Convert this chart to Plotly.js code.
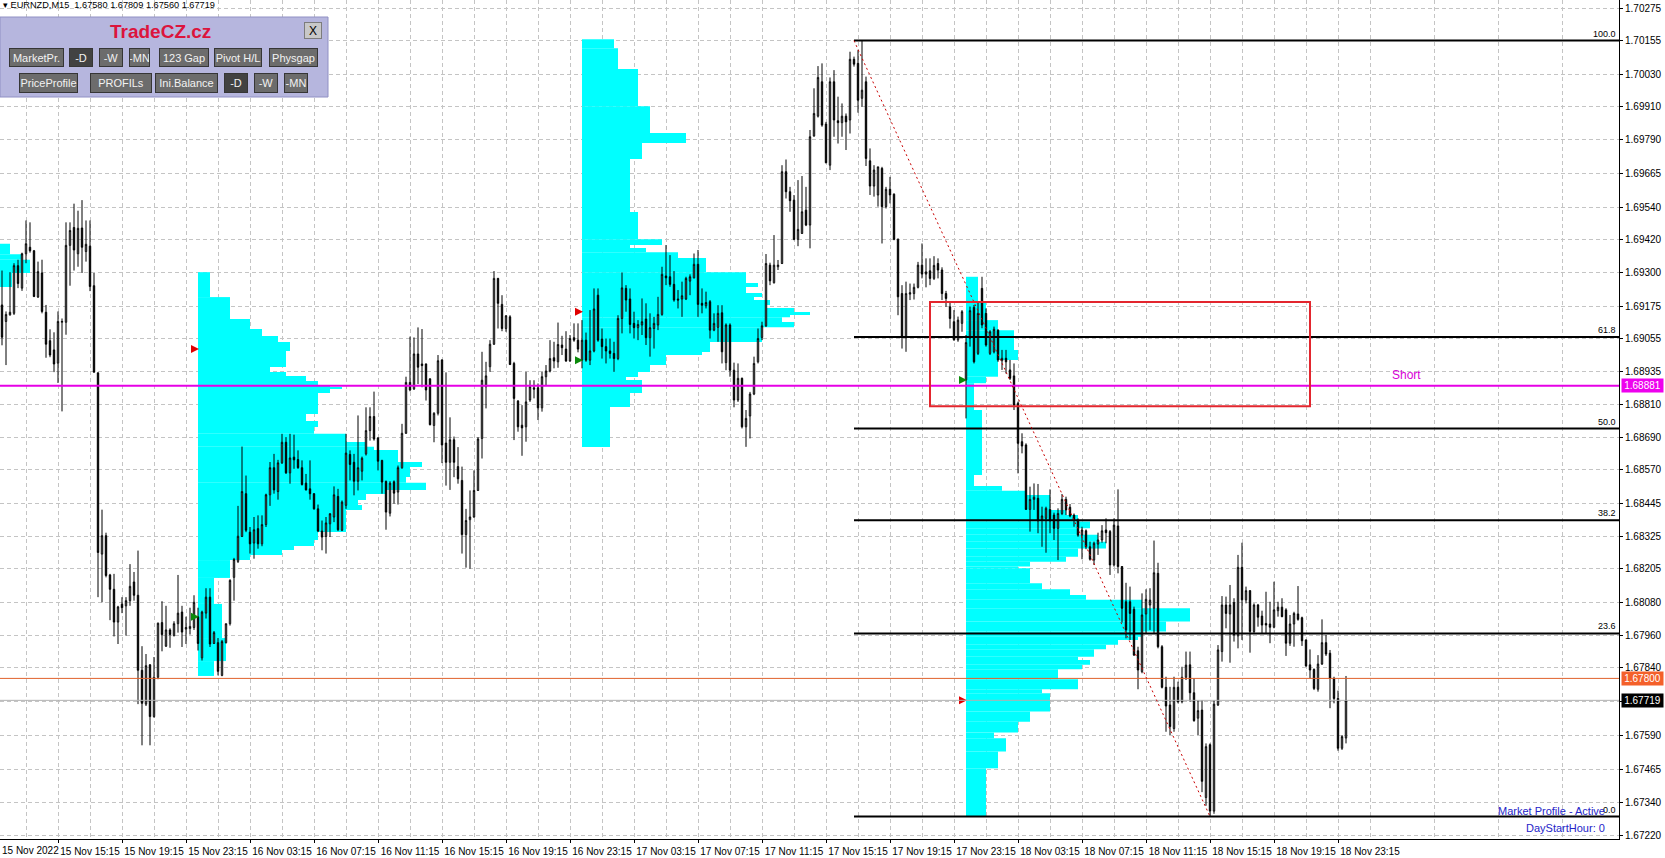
<!DOCTYPE html>
<html>
<head>
<meta charset="utf-8">
<script src="https://cdn.plot.ly/plotly-3.0.1.min.js"></script>
<style>
html,body{margin:0;padding:0;background:#fff;overflow:hidden}
#chart{width:1665px;height:858px}
</style>
</head>
<body>
<div id="chart"></div>
<script>
// ---------------- DATA ----------------
const symbol = 'EURNZD';
const timeframe = 'M15';
// bar index 0 = 15 Nov 2022 11:15, one bar per 15 minutes
const firstIdx = 2;

const opens = [
1.69179,1.69118,1.69142,1.69148,1.69324,1.69241,1.69368,1.69392,1.69379,1.69208,
1.69297,1.69152,1.69047,1.69013,1.68964,1.69115,1.69115,1.69399,1.69465,1.69368,
1.69463,1.69376,1.69396,1.69250,1.68928,1.68259,1.68327,1.68182,1.68129,1.68008,
1.68074,1.68068,1.68087,1.68156,1.68107,1.67830,1.67705,1.67850,1.67659,1.67804,
1.68006,1.67919,1.67979,1.67958,1.68002,1.68045,1.67982,1.67984,1.67988,1.68028,
1.67876,1.68041,1.68100,1.67929,1.67932,1.67811,1.67932,1.68002,1.68173,1.68232,
1.68324,1.68482,1.68340,1.68300,1.68353,1.68297,1.68368,1.68478,1.68578,1.68490,
1.68596,1.68672,1.68559,1.68617,1.68608,1.68578,1.68521,1.68500,1.68482,1.68426,
1.68344,1.68324,1.68371,1.68396,1.68472,1.68347,1.68439,1.68627,1.68598,1.68528,
1.68565,1.68629,1.68715,1.68767,1.68688,1.68605,1.68527,1.68410,1.68526,1.68488,
1.68578,1.68705,1.68893,1.68869,1.68998,1.68961,1.68961,1.68906,1.68734,1.68779,
1.68976,1.68669,1.68598,1.68681,1.68582,1.68531,1.68331,1.68386,1.68396,1.68494,
1.68686,1.68877,1.68951,1.69034,1.69277,1.69181,1.69092,1.69135,1.68963,1.68824,
1.68735,1.68729,1.68828,1.68873,1.68873,1.68799,1.68914,1.68935,1.68984,1.68969,
1.69031,1.69016,1.68972,1.69058,1.69049,1.68975,1.69049,1.68975,1.69009,1.69215,
1.69053,1.69025,1.69009,1.69000,1.68981,1.69129,1.69240,1.69201,1.69111,1.69095,
1.69105,1.69127,1.69058,1.69092,1.69105,1.69144,1.69286,1.69283,1.69255,1.69201,
1.69201,1.69201,1.69267,1.69279,1.69329,1.69185,1.69176,1.69191,1.69086,1.69096,
1.69150,1.68966,1.69105,1.68938,1.68828,1.68908,1.68729,1.68769,1.68850,1.68969,
1.69059,1.69102,1.69326,1.69261,1.69320,1.69332,1.69671,1.69597,1.69566,1.69421,
1.69443,1.69529,1.69474,1.69803,1.69876,1.70003,1.69847,1.69695,1.70003,1.69859,
1.69852,1.69876,1.69862,1.70086,1.70071,1.69942,1.70003,1.69711,1.69618,1.69585,
1.69683,1.69542,1.69606,1.69588,1.69421,1.69221,1.69061,1.69219,1.69221,1.69244,
1.69326,1.69293,1.69305,1.69277,1.69332,1.69308,1.69221,1.69172,1.69117,1.69050,
1.69111,1.68902,1.69056,1.69170,1.69000,1.69240,1.69148,1.69000,1.69006,1.69086,
1.68973,1.68982,1.68939,1.68917,1.68816,1.68674,1.68662,1.68424,1.68461,1.68465,
1.68387,1.68391,1.68424,1.68403,1.68354,1.68409,1.68461,1.68432,1.68403,1.68385,
1.68329,1.68345,1.68286,1.68237,1.68296,1.68311,1.68348,1.68342,1.68219,1.68363,
1.68213,1.68083,1.68083,1.68055,1.67902,1.67825,1.68038,1.68071,1.68059,1.68188,
1.67917,1.67767,1.67702,1.67615,1.67767,1.67714,1.67804,1.67850,1.67747,1.67653,
1.67683,1.67360,1.67555,1.67310,1.67702,1.67899,1.68071,1.68038,1.68080,1.67957,
1.68210,1.68090,1.68124,1.67973,1.68071,1.68030,1.68003,1.68001,1.67989,1.68050,
1.68063,1.68053,1.67930,1.68001,1.68038,1.68024,1.67942,1.67850,1.67833,1.67760,
1.67853,1.67932,1.67893,1.67800,1.67726,1.67542,1.67580];

const highs = [
1.69306,1.69155,1.69300,1.69333,1.69346,1.69372,1.69491,1.69484,1.69382,1.69339,
1.69346,1.69179,1.69089,1.69078,1.69155,1.69129,1.69484,1.69484,1.69553,1.69527,
1.69566,1.69491,1.69491,1.69297,1.68931,1.68423,1.68338,1.68186,1.68186,1.68068,
1.68100,1.68100,1.68222,1.68193,1.68272,1.67919,1.67890,1.67853,1.67879,1.68006,
1.68085,1.68068,1.67985,1.68011,1.68182,1.68068,1.68028,1.68061,1.68107,1.68061,
1.68050,1.68133,1.68133,1.67975,1.67949,1.67942,1.68002,1.68166,1.68245,1.68437,
1.68656,1.68549,1.68359,1.68396,1.68402,1.68402,1.68482,1.68599,1.68629,1.68607,
1.68703,1.68691,1.68703,1.68700,1.68642,1.68605,1.68555,1.68605,1.68484,1.68442,
1.68383,1.68396,1.68410,1.68509,1.68500,1.68457,1.68703,1.68642,1.68629,1.68771,
1.68619,1.68801,1.68801,1.68859,1.68691,1.68607,1.68531,1.68528,1.68531,1.68586,
1.68740,1.68914,1.69062,1.69059,1.69096,1.69090,1.68963,1.68909,1.68783,1.68994,
1.68978,1.68930,1.68764,1.68693,1.68654,1.68582,1.68426,1.68494,1.68568,1.68691,
1.69006,1.68969,1.69049,1.69304,1.69279,1.69215,1.69141,1.69141,1.68969,1.68828,
1.68809,1.68932,1.68901,1.68901,1.68889,1.68932,1.68957,1.69049,1.69043,1.69114,
1.69065,1.69082,1.69068,1.69111,1.69111,1.69123,1.69077,1.69160,1.69240,1.69240,
1.69092,1.69055,1.69055,1.69043,1.69141,1.69299,1.69252,1.69240,1.69154,1.69123,
1.69203,1.69185,1.69148,1.69135,1.69209,1.69320,1.69400,1.69363,1.69304,1.69234,
1.69265,1.69283,1.69292,1.69369,1.69382,1.69240,1.69228,1.69197,1.69148,1.69178,
1.69178,1.69111,1.69111,1.68966,1.68963,1.68911,1.68791,1.68858,1.68988,1.69092,
1.69117,1.69367,1.69335,1.69437,1.69345,1.69695,1.69716,1.69615,1.69585,1.69640,
1.69655,1.69615,1.69825,1.69979,1.70061,1.70071,1.69855,1.70019,1.70046,1.69948,
1.69923,1.69886,1.70114,1.70096,1.70120,1.70155,1.70022,1.69757,1.69695,1.69689,
1.69689,1.69615,1.69652,1.69591,1.69425,1.69252,1.69265,1.69258,1.69258,1.69338,
1.69406,1.69351,1.69351,1.69359,1.69351,1.69318,1.69231,1.69191,1.69160,1.69136,
1.69160,1.69068,1.69173,1.69179,1.69191,1.69283,1.69166,1.69086,1.69099,1.69089,
1.69013,1.69013,1.68976,1.68963,1.68822,1.68705,1.68668,1.68508,1.68520,1.68518,
1.68434,1.68434,1.68498,1.68412,1.68428,1.68481,1.68471,1.68444,1.68409,1.68391,
1.68360,1.68350,1.68305,1.68305,1.68338,1.68366,1.68391,1.68348,1.68391,1.68498,
1.68215,1.68153,1.68139,1.68065,1.67917,1.68114,1.68129,1.68133,1.68309,1.68227,
1.67923,1.67806,1.67769,1.67806,1.67788,1.67843,1.67899,1.67899,1.67800,1.67720,
1.67720,1.67560,1.67560,1.67720,1.67923,1.68104,1.68102,1.68145,1.68096,1.68256,
1.68301,1.68139,1.68126,1.68077,1.68075,1.68050,1.68120,1.68083,1.68157,1.68083,
1.68096,1.68059,1.68034,1.68046,1.68141,1.68028,1.67944,1.67907,1.67837,1.67886,
1.68018,1.67960,1.67905,1.67806,1.67755,1.67591,1.67809];

const lows = [
1.69030,1.68957,1.69140,1.69142,1.69241,1.69231,1.69333,1.69372,1.69208,1.69205,
1.69148,1.68984,1.68986,1.68931,1.68891,1.68786,1.69069,1.69250,1.69306,1.69320,
1.69297,1.69339,1.69230,1.68928,1.68100,1.68081,1.68173,1.68015,1.67955,1.67927,
1.68041,1.67958,1.68068,1.68087,1.67705,1.67553,1.67698,1.67553,1.67655,1.67797,
1.67900,1.67916,1.67913,1.67955,1.67969,1.67916,1.67927,1.67962,1.67979,1.67903,
1.67866,1.68021,1.67916,1.67927,1.67811,1.67808,1.67929,1.67995,1.68087,1.68226,
1.68322,1.68340,1.68261,1.68242,1.68279,1.68288,1.68359,1.68437,1.68482,1.68460,
1.68592,1.68555,1.68519,1.68574,1.68574,1.68512,1.68494,1.68460,1.68423,1.68340,
1.68273,1.68261,1.68322,1.68377,1.68344,1.68344,1.68426,1.68531,1.68476,1.68494,
1.68531,1.68623,1.68678,1.68678,1.68568,1.68482,1.68349,1.68398,1.68445,1.68442,
1.68574,1.68703,1.68860,1.68865,1.68887,1.68875,1.68826,1.68734,1.68672,1.68771,
1.68595,1.68512,1.68496,1.68543,1.68519,1.68261,1.68209,1.68205,1.68393,1.68492,
1.68612,1.68797,1.68932,1.69031,1.69092,1.69082,1.69080,1.68957,1.68680,1.68711,
1.68622,1.68674,1.68821,1.68834,1.68754,1.68785,1.68883,1.68930,1.68945,1.68947,
1.68994,1.68969,1.68969,1.69043,1.69004,1.68945,1.68969,1.68957,1.69004,1.69043,
1.68981,1.68963,1.68981,1.68932,1.68975,1.69074,1.69154,1.69074,1.69055,1.69049,
1.69068,1.69031,1.68988,1.69018,1.69086,1.69139,1.69252,1.69246,1.69191,1.69166,
1.69135,1.69197,1.69215,1.69277,1.69135,1.69148,1.69166,1.69055,1.69082,1.69043,
1.68963,1.68938,1.68914,1.68801,1.68821,1.68723,1.68655,1.68686,1.68846,1.68963,
1.69049,1.69098,1.69252,1.69258,1.69308,1.69330,1.69572,1.69523,1.69418,1.69396,
1.69441,1.69470,1.69388,1.69800,1.69871,1.69837,1.69702,1.69677,1.69800,1.69775,
1.69800,1.69751,1.69812,1.70059,1.69889,1.69911,1.69692,1.69585,1.69579,1.69542,
1.69406,1.69535,1.69554,1.69418,1.69141,1.69018,1.69006,1.69197,1.69199,1.69240,
1.69277,1.69244,1.69252,1.69271,1.69277,1.69197,1.69172,1.69092,1.69047,1.69043,
1.69080,1.68760,1.69025,1.68963,1.68994,1.69093,1.69025,1.68994,1.69000,1.68969,
1.68939,1.68926,1.68902,1.68791,1.68557,1.68631,1.68422,1.68342,1.68422,1.68336,
1.68286,1.68264,1.68336,1.68311,1.68237,1.68403,1.68403,1.68395,1.68360,1.68323,
1.68240,1.68277,1.68235,1.68219,1.68256,1.68301,1.68299,1.68182,1.68213,1.68188,
1.68006,1.67948,1.67942,1.67883,1.67760,1.67819,1.67966,1.67979,1.67966,1.67911,
1.67763,1.67603,1.67591,1.67603,1.67708,1.67708,1.67794,1.67714,1.67640,1.67591,
1.67380,1.67330,1.67290,1.67300,1.67698,1.67862,1.67985,1.67858,1.67936,1.67911,
1.67942,1.68077,1.67895,1.67966,1.67991,1.67966,1.67966,1.67930,1.67985,1.68028,
1.68026,1.67883,1.67920,1.67917,1.68013,1.67920,1.67843,1.67800,1.67757,1.67751,
1.67850,1.67883,1.67690,1.67708,1.67533,1.67536,1.67560];

const closes = [
1.69060,1.69144,1.69152,1.69324,1.69258,1.69368,1.69405,1.69379,1.69210,1.69302,
1.69155,1.69034,1.68994,1.68961,1.69118,1.69118,1.69399,1.69454,1.69382,1.69462,
1.69392,1.69403,1.69247,1.68931,1.68265,1.68327,1.68180,1.68129,1.68008,1.68064,
1.68061,1.68087,1.68140,1.68107,1.67830,1.67708,1.67847,1.67659,1.67804,1.68004,
1.67962,1.67979,1.67962,1.68002,1.68041,1.67971,1.67988,1.67992,1.68081,1.67929,
1.68045,1.68100,1.67927,1.67969,1.67826,1.67936,1.68002,1.68162,1.68239,1.68325,
1.68490,1.68347,1.68297,1.68349,1.68297,1.68368,1.68478,1.68578,1.68496,1.68596,
1.68672,1.68559,1.68614,1.68607,1.68578,1.68516,1.68496,1.68482,1.68426,1.68344,
1.68322,1.68374,1.68408,1.68478,1.68349,1.68451,1.68632,1.68590,1.68528,1.68578,
1.68613,1.68715,1.68767,1.68684,1.68602,1.68525,1.68414,1.68521,1.68484,1.68578,
1.68705,1.68893,1.68865,1.68998,1.68949,1.68955,1.68865,1.68737,1.68779,1.68973,
1.68662,1.68598,1.68681,1.68598,1.68537,1.68331,1.68383,1.68396,1.68494,1.68684,
1.68901,1.68917,1.69034,1.69277,1.69185,1.69092,1.69139,1.68959,1.68834,1.68729,
1.68725,1.68821,1.68877,1.68868,1.68799,1.68914,1.68935,1.68981,1.68972,1.69033,
1.69021,1.68972,1.69055,1.69049,1.69016,1.69049,1.68975,1.69009,1.69164,1.69049,
1.69025,1.69009,1.69000,1.68981,1.69129,1.69242,1.69197,1.69107,1.69095,1.69107,
1.69117,1.69058,1.69095,1.69111,1.69144,1.69292,1.69279,1.69255,1.69197,1.69197,
1.69213,1.69277,1.69283,1.69329,1.69181,1.69178,1.69188,1.69086,1.69111,1.69148,
1.69006,1.69105,1.68938,1.68828,1.68908,1.68729,1.68760,1.68850,1.68963,1.69055,
1.69102,1.69332,1.69268,1.69326,1.69326,1.69671,1.69597,1.69564,1.69421,1.69458,
1.69523,1.69474,1.69800,1.69886,1.70019,1.69843,1.69704,1.70003,1.69862,1.69852,
1.69876,1.69855,1.70086,1.70068,1.69935,1.69972,1.69720,1.69618,1.69677,1.69689,
1.69542,1.69606,1.69585,1.69421,1.69209,1.69061,1.69221,1.69224,1.69244,1.69326,
1.69293,1.69301,1.69277,1.69325,1.69308,1.69221,1.69203,1.69129,1.69050,1.69123,
1.69154,1.69040,1.69158,1.68969,1.69148,1.69105,1.69031,1.69080,1.69089,1.68976,
1.68982,1.68969,1.68908,1.68809,1.68668,1.68658,1.68424,1.68461,1.68469,1.68382,
1.68400,1.68428,1.68382,1.68354,1.68409,1.68461,1.68422,1.68400,1.68387,1.68329,
1.68348,1.68286,1.68240,1.68299,1.68311,1.68345,1.68338,1.68219,1.68366,1.68213,
1.68059,1.67979,1.68040,1.67886,1.67831,1.68034,1.68092,1.68089,1.68190,1.67917,
1.67767,1.67698,1.67622,1.67767,1.67714,1.67804,1.67849,1.67747,1.67644,1.67681,
1.67420,1.67548,1.67310,1.67705,1.67905,1.68071,1.68040,1.68071,1.67960,1.68210,
1.68090,1.68124,1.67973,1.68071,1.68026,1.67997,1.67997,1.67989,1.68053,1.68063,
1.68028,1.67930,1.68001,1.68040,1.68018,1.67939,1.67846,1.67831,1.67763,1.67853,
1.67932,1.67890,1.67800,1.67726,1.67542,1.67585,1.67719];

// time axis labels (every 16 bars, starting at bar 16)
const firstTimeLabel = '15 Nov 2022';
const timeLabels = ['15 Nov 15:15','15 Nov 19:15','15 Nov 23:15','16 Nov 03:15','16 Nov 07:15',
  '16 Nov 11:15','16 Nov 15:15','16 Nov 19:15','16 Nov 23:15','17 Nov 03:15','17 Nov 07:15',
  '17 Nov 11:15','17 Nov 15:15','17 Nov 19:15','17 Nov 23:15','18 Nov 03:15','18 Nov 07:15',
  '18 Nov 11:15','18 Nov 15:15','18 Nov 19:15','18 Nov 23:15'];
const barsPerLabel = 16;

// price scale labels
const priceTicks = [1.70275,1.70155,1.70030,1.69910,1.69790,1.69665,1.69540,1.69420,1.69300,
  1.69175,1.69055,1.68935,1.68810,1.68690,1.68570,1.68445,1.68325,1.68205,1.68080,1.67960,
  1.67840,1.67715,1.67590,1.67465,1.67340,1.67220];

// day starts (00:00) and market profiles (price boundaries, TPO length in bars)
const dayStartIdx = [51, 147, 243];
const dayEndIdx = [146, 242, 338];

const prof15Start = -45;
const prof15Levels = [1.69405,1.69366,1.69346,1.69297,1.69245];
const prof15Len = [49,52,54,49.5];

const prof16Start = 51;
const prof16Levels = [1.69300,1.69208,1.69127,1.69090,1.69064,1.69042,1.69009,1.68950,1.68931,1.68917,
  1.68898,1.68883,1.68876,1.68869,1.68854,1.68776,1.68750,1.68728,1.68703,1.68673,1.68655,1.68643,
  1.68599,1.68581,1.68544,1.68522,1.68496,1.68481,1.68459,1.68440,1.68422,1.68341,1.68311,1.68289,
  1.68274,1.68256,1.68237,1.68171,1.68075,1.67949,1.67864,1.67809];
const prof16Len = [3,8,13,16,20,23,22,18,22,27,30,33,36,33,30,27,30,29,37,42,44,50,56,53,52,57,47,42,
  40,41,37,30,29,24,21,13,8,4,6,7,4];

const prof17Start = 147;
const prof17Levels = [1.70160,1.70127,1.70050,1.69913,1.69814,1.69777,1.69718,1.69522,1.69422,1.69400,
  1.69389,1.69374,1.69352,1.69300,1.69260,1.69245,1.69223,1.69208,1.69197,1.69179,1.69168,1.69153,
  1.69142,1.69134,1.69116,1.69097,1.69042,1.69005,1.68994,1.68957,1.68931,1.68913,1.68902,1.68854,
  1.68802,1.68654];
const prof17Len = [8,9,14,17,26,15,12,14,20,12,16,24,31,41,44,41,45,43,47,46,53,57,52,50,53,45,32,30,
  21,17,14,11,15,12,7];

const prof18Start = 243;
const prof18Levels = [1.69283,1.69191,1.69123,1.69086,1.69013,1.68976,1.68914,1.68890,1.68791,1.68551,
  1.68510,1.68493,1.68477,1.68422,1.68403,1.68379,1.68354,1.68330,1.68305,1.68280,
  1.68249,1.68231,1.68213,1.68207,1.68151,1.68129,1.68108,1.68090,1.68059,1.68010,
  1.67973,1.67954,1.67942,1.67924,1.67908,1.67880,1.67868,1.67850,1.67834,1.67797,
  1.67760,1.67745,1.67678,1.67640,1.67600,1.67579,1.67558,1.67530,1.67468,1.67292];
const prof18Len = [3,5,8,12,13,8,5,2,4,2,9,15,21,25,28,31,28,33,35,28,25,16,13,16,19,26,30,44,56,50,
  44,43,38,35,32,28,31,29,23,28,19,21,16,13,7,10,10,8,5];

// Fibonacci retracement
const fibHigh = 1.70155, fibLow = 1.67290;
const fibStartIdx = 215, fibEndIdx = 304;
const fibLevels = [100, 61.8, 50, 38.2, 23.6, 0];

// other objects
const shortLevel = 1.68881;
const alertLevel = 1.67800;
const shortLabel = 'Short';
const shortLabelIdx = 353;
const zoneIdx = [234, 329];
const zonePrice = [1.68805, 1.69190];
const panelTitle = 'TradeCZ.cz';
const panelRow1 = ['MarketPr.','-D','-W','-MN','123 Gap','Pivot H/L','Physgap'];
const panelRow2 = ['PriceProfile','PROFILs','Ini.Balance','-D','-W','-MN'];
const statusLines = ['Market Profile - Active', 'DayStartHour: 0'];

// ---------------- DRAWING ----------------
const FONT = 'Liberation Sans, Arial, sans-serif';
const PW = 1619, PH = 839;                 // plot area size in px
const px = v => v / PW, py = v => 1 - v / PH;
const XR = [1.5, 406.25];
const YR = [1.67207, 1.70305];
const GRID = '#c4c4c4';

const idx = opens.map((_, k) => firstIdx + k);
const lastK = opens.length - 1;

function profileTrace(start, levels, lens) {
  const y = [], w = [];
  for (let k = 0; k < lens.length; k++) {
    y.push((levels[k] + levels[k + 1]) / 2);
    w.push(levels[k] - levels[k + 1]);
  }
  return {type: 'bar', orientation: 'h', x: lens, y: y, width: w, base: start,
    marker: {color: '#00ffff', line: {width: 0}}, hoverinfo: 'skip'};
}

const traces = [
  profileTrace(prof15Start, prof15Levels, prof15Len),
  profileTrace(prof16Start, prof16Levels, prof16Len),
  profileTrace(prof17Start, prof17Levels, prof17Len),
  profileTrace(prof18Start, prof18Levels, prof18Len),
  {type: 'candlestick', x: idx, open: opens, high: highs, low: lows, close: closes,
    increasing: {line: {color: '#000', width: 1}, fillcolor: '#ffffff'},
    decreasing: {line: {color: '#000', width: 1}, fillcolor: '#000000'},
    whiskerwidth: 0, hoverinfo: 'skip'},
  {type: 'scatter', mode: 'markers',
    x: dayStartIdx.map(d => d + 0.25),
    y: dayStartIdx.map(d => opens[d - firstIdx]),
    marker: {symbol: 'arrow-right', size: 8, color: '#0a8a0a'}, hoverinfo: 'skip'},
  {type: 'scatter', mode: 'markers',
    x: dayStartIdx.map(d => d + 0.25),
    y: dayEndIdx.map(d => closes[d - firstIdx]),
    marker: {symbol: 'arrow-right', size: 8, color: '#e00000'}, hoverinfo: 'skip'}
];

const fibPrice = l => fibLow + (fibHigh - fibLow) * l / 100;
const lastClose = closes[lastK];

const shapes = [];
// horizontal price lines
shapes.push({type: 'line', xref: 'paper', yref: 'y', x0: 0, x1: 1, y0: lastClose, y1: lastClose,
  line: {color: '#b0b0b0', width: 1}, layer: 'above'});
shapes.push({type: 'line', xref: 'paper', yref: 'y', x0: 0, x1: 1, y0: alertLevel, y1: alertLevel,
  line: {color: '#e0622c', width: 1}, layer: 'above'});
shapes.push({type: 'line', xref: 'paper', yref: 'y', x0: 0, x1: 1, y0: shortLevel, y1: shortLevel,
  line: {color: '#e600e6', width: 2}, layer: 'above'});
// fibo levels
fibLevels.forEach(l => shapes.push({type: 'line', xref: 'x', yref: 'y', x0: fibStartIdx, x1: XR[1],
  y0: fibPrice(l), y1: fibPrice(l), line: {color: '#000', width: 2}, layer: 'above'}));
// fibo trend line
shapes.push({type: 'line', xref: 'x', yref: 'y', x0: fibStartIdx, y0: fibHigh, x1: fibEndIdx, y1: fibLow,
  line: {color: '#c80000', width: 1, dash: '2px,3px'}, layer: 'above'});
// zone rectangle
shapes.push({type: 'rect', xref: 'x', yref: 'y', x0: zoneIdx[0], x1: zoneIdx[1], y0: zonePrice[0], y1: zonePrice[1],
  line: {color: '#e3262e', width: 2}, fillcolor: 'rgba(0,0,0,0)', layer: 'above'});
// panel
shapes.push({type: 'rect', xref: 'paper', yref: 'paper', x0: px(0), x1: px(328), y0: py(97), y1: py(17),
  fillcolor: '#b6b6de', line: {color: '#9090c4', width: 1}, layer: 'above'});

const annotations = [];
// first time label
annotations.push({xref: 'paper', yref: 'paper', x: 0, xshift: 0, y: py(850), xanchor: 'left', yanchor: 'middle',
  text: firstTimeLabel, showarrow: false, font: {family: FONT, size: 10, color: '#000'}});
// fibo labels
fibLevels.forEach(l => annotations.push({xref: 'paper', yref: 'y', x: 1, xshift: -1, y: fibPrice(l),
  xanchor: 'right', yanchor: 'bottom', text: l.toFixed(1), showarrow: false,
  font: {family: FONT, size: 9, color: '#000'}}));
// price boxes on the scale
function priceBox(price, bg) {
  return {xref: 'paper', yref: 'y', x: px(1621), y: price, xanchor: 'left', yanchor: 'middle',
    text: price.toFixed(5), showarrow: false, bgcolor: bg, borderpad: 1, width: 39, height: 11,
    font: {family: FONT, size: 10, color: '#ffffff'}};
}
annotations.push(priceBox(shortLevel, '#ee00ee'));
annotations.push(priceBox(alertLevel, '#f4602a'));
annotations.push(priceBox(lastClose, '#000000'));
// Short label
annotations.push({xref: 'x', yref: 'y', x: shortLabelIdx, y: shortLevel, yshift: 2, xanchor: 'center',
  yanchor: 'bottom', text: shortLabel, showarrow: false, font: {family: FONT, size: 12, color: '#d800d8'}});
// status text bottom right
annotations.push({xref: 'paper', yref: 'paper', x: px(1607), y: py(811), xanchor: 'right', yanchor: 'middle',
  text: statusLines[0], showarrow: false, font: {family: FONT, size: 11, color: '#2424c8'}});
annotations.push({xref: 'paper', yref: 'paper', x: px(1607), y: py(828), xanchor: 'right', yanchor: 'middle',
  text: statusLines[1], showarrow: false, font: {family: FONT, size: 11, color: '#2424c8'}});
// top-left symbol info
annotations.push({xref: 'paper', yref: 'paper', x: px(1), y: py(5), xanchor: 'left', yanchor: 'middle',
  text: '\u25BE ' + symbol + ',' + timeframe + '\u00a0\u00a0' + [opens[lastK], highs[lastK], lows[lastK], closes[lastK]].map(v => v.toFixed(5)).join(' '),
  showarrow: false, font: {family: FONT, size: 9.2, color: '#000'}});
// panel title & close
annotations.push({xref: 'paper', yref: 'paper', x: px(160), y: py(32), xanchor: 'center', yanchor: 'middle',
  text: '<b>' + panelTitle + '</b>', showarrow: false, font: {family: FONT, size: 19, color: '#dc143c'}});
annotations.push({xref: 'paper', yref: 'paper', x: px(304), y: py(22), xanchor: 'left', yanchor: 'top',
  text: 'X', showarrow: false, width: 16, height: 15, bgcolor: '#c8c8c8', bordercolor: '#7c7c7c',
  borderwidth: 1, borderpad: 0, font: {family: FONT, size: 12, color: '#000'}});
function button(text, x0, x1, y0, y1, dark) {
  return {xref: 'paper', yref: 'paper', x: px(x0), y: py(y0), xanchor: 'left', yanchor: 'top',
    text: text, showarrow: false, width: x1 - x0 - 2, height: y1 - y0 - 2,
    bgcolor: dark ? '#424242' : '#6c6c6c', bordercolor: '#363636', borderwidth: 1, borderpad: 0,
    align: 'center', valign: 'middle', font: {family: FONT, size: 11, color: '#f2f2f2'}};
}
const row1X = [[9,64],[69,93],[99,123],[129,150],[159,209],[214,262],[269,318]];
const row2X = [[19,78],[90,152],[155,218],[224,248],[254,278],[284,308]];
panelRow1.forEach((t, k) => annotations.push(button(t, row1X[k][0], row1X[k][1], 48, 67, k === 1)));
panelRow2.forEach((t, k) => annotations.push(button(t, row2X[k][0], row2X[k][1], 73, 93, k === 3)));

const labelIdx = timeLabels.map((_, k) => (k + 1) * barsPerLabel);
const minorIdx = [];
for (let v = barsPerLabel / 2; v < XR[1]; v += barsPerLabel) minorIdx.push(v);

const layout = {
  width: 1665, height: 858,
  margin: {l: 0, r: 46, t: 0, b: 19, pad: 0},
  paper_bgcolor: '#ffffff', plot_bgcolor: '#ffffff',
  showlegend: false, hovermode: false, dragmode: false,
  barmode: 'overlay', boxgap: 0.5,
  xaxis: {type: 'linear', range: XR, fixedrange: true, zeroline: false,
    showgrid: true, gridcolor: GRID, gridwidth: 1, griddash: '4px,3px',
    tickmode: 'array', tickvals: labelIdx, ticktext: timeLabels,
    ticks: 'outside', ticklen: 3, tickcolor: '#000', ticklabelshift: 32,
    tickfont: {family: FONT, size: 10, color: '#000'},
    minor: {tickmode: 'array', tickvals: minorIdx, showgrid: true, gridcolor: GRID, gridwidth: 1, griddash: '4px,3px', ticks: ''},
    showline: true, linecolor: '#000', linewidth: 1,
    rangeslider: {visible: false}},
  yaxis: {type: 'linear', side: 'right', range: YR, fixedrange: true, zeroline: false,
    showgrid: true, gridcolor: GRID, gridwidth: 1, griddash: '4px,3px',
    tickmode: 'array', tickvals: priceTicks,
    ticktext: priceTicks.map(v => Math.abs(v - lastClose) < 0.0001 ? '' : v.toFixed(5)),
    ticks: 'outside', ticklen: 3, tickcolor: '#000',
    tickfont: {family: FONT, size: 10, color: '#000'},
    showline: true, linecolor: '#000', linewidth: 1},
  shapes: shapes,
  annotations: annotations
};

Plotly.newPlot('chart', traces, layout, {staticPlot: true, displayModeBar: false});
</script>
</body>
</html>
